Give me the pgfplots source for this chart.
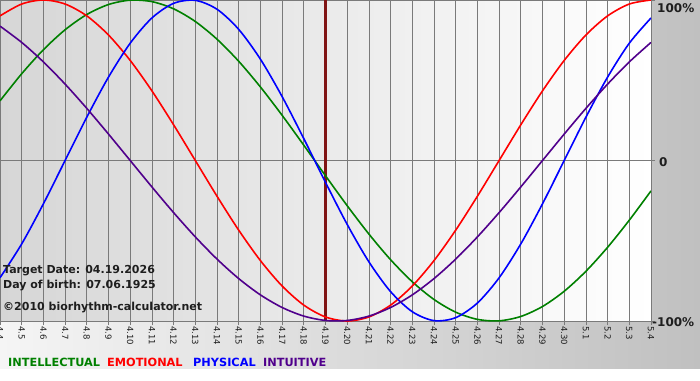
\documentclass[border=0pt]{standalone}
\usepackage{fontspec}
\setmainfont{DejaVu Sans}
\usepackage{pgfplots}
\usepackage{pgfplotstable}
\pgfplotsset{compat=1.18}
\definecolor{cint}{RGB}{0,128,0}
\definecolor{cemo}{RGB}{255,0,0}
\definecolor{cphy}{RGB}{0,0,255}
\definecolor{cintu}{RGB}{80,0,140}
\definecolor{ctarget}{RGB}{128,20,20}
\definecolor{cgrid}{RGB}{122,122,122}
\definecolor{ctext}{RGB}{30,30,30}
\pgfplotstableread{
i int emo phy intu
0 0.3717 0.9010 -0.7308 0.8372
1 0.5406 0.9749 -0.5196 0.7357
2 0.6901 1.0000 -0.2698 0.6142
3 0.8146 0.9749 0.0000 0.4759
4 0.9096 0.9010 0.2698 0.3247
5 0.9718 0.7818 0.5196 0.1646
6 0.9989 0.6235 0.7308 0.0000
7 0.9898 0.4339 0.8879 -0.1646
8 0.9450 0.2225 0.9791 -0.3247
9 0.8660 0.0000 0.9977 -0.4759
10 0.7557 -0.2225 0.9423 -0.6142
11 0.6182 -0.4339 0.8170 -0.7357
12 0.4582 -0.6235 0.6313 -0.8372
13 0.2817 -0.7818 0.3984 -0.9158
14 0.0951 -0.9010 0.1362 -0.9694
15 -0.0951 -0.9749 -0.1362 -0.9966
16 -0.2817 -1.0000 -0.3984 -0.9966
17 -0.4582 -0.9749 -0.6313 -0.9694
18 -0.6182 -0.9010 -0.8170 -0.9158
19 -0.7557 -0.7818 -0.9423 -0.8372
20 -0.8660 -0.6235 -0.9977 -0.7357
21 -0.9450 -0.4339 -0.9791 -0.6142
22 -0.9898 -0.2225 -0.8879 -0.4759
23 -0.9989 0.0000 -0.7308 -0.3247
24 -0.9718 0.2225 -0.5196 -0.1646
25 -0.9096 0.4339 -0.2698 0.0000
26 -0.8146 0.6235 0.0000 0.1646
27 -0.6901 0.7818 0.2698 0.3247
28 -0.5406 0.9010 0.5196 0.4759
29 -0.3717 0.9749 0.7308 0.6142
30 -0.1893 1.0000 0.8879 0.7357
}\bio
\begin{document}
\begin{tikzpicture}[x=1pt,y=1pt]
\path[use as bounding box] (0,0) rectangle (700,380);
\shade[left color={rgb,255:red,245;green,245;blue,245}, right color={rgb,255:red,192;green,192;blue,192}] (0,11) rectangle (700,380);
\fill[white] (0,0) rectangle (700,11);
\begin{axis}[at={(0pt,219.5pt)}, anchor=origin, width=651pt, height=321pt, scale only axis,
  xmin=0, xmax=30, ymin=-1, ymax=1,
  axis line style={draw=none},
  axis background/.style={left color={rgb,255:red,214;green,214;blue,214}, right color=white},
  xtick={0,...,30},
  xticklabels={4.4,4.5,4.6,4.7,4.8,4.9,4.10,4.11,4.12,4.13,4.14,4.15,4.16,4.17,4.18,4.19,4.20,4.21,4.22,4.23,4.24,4.25,4.26,4.27,4.28,4.29,4.30,5.1,5.2,5.3,5.4},
  ytick={-1,0,1}, yticklabels={},
  xmajorgrids, ymajorgrids,
  grid style={draw=cgrid, line width=0.8pt},
  major tick style={draw=cgrid, line width=0.8pt},
  major tick length=4pt, tick align=outside,
  xtick pos=bottom, ytick pos=right,
  xticklabel style={rotate=-90, anchor=west, inner sep=1pt, text=ctext, font=\fontsize{8.5}{8.5}\selectfont},
]
\addplot[ctarget, line width=2.2pt] coordinates {(15,-1) (15,1)};
\addplot[cint, line width=1.6pt, smooth] table[x=i, y=int] {\bio};
\addplot[cemo, line width=1.6pt, smooth] table[x=i, y=emo] {\bio};
\addplot[cphy, line width=1.6pt, smooth] table[x=i, y=phy] {\bio};
\addplot[cintu, line width=1.6pt, smooth] table[x=i, y=intu] {\bio};
\end{axis}
\begin{scope}[every node/.style={anchor=west, inner sep=0pt, text=ctext, font=\bfseries\fontsize{12}{12}\selectfont}]
\node at (657,372) {100\%};
\node at (659,218) {0};
\node at (652,58) {-100\%};
\end{scope}
\begin{scope}[every node/.style={anchor=west, inner sep=0pt, text=ctext, font=\bfseries\fontsize{11}{11}\selectfont}]
\node at (3,109) {Target Date: 04.19.2026};
\node at (3,94) {Day of birth: 07.06.1925};
\node at (3,72) {©2010 biorhythm-calculator.net};
\end{scope}
\begin{scope}[every node/.style={anchor=west, inner sep=0pt, font=\bfseries\fontsize{11.3}{11.3}\selectfont}]
\node[text=cint] at (8,18) {INTELLECTUAL};
\node[text=cemo] at (107,18) {EMOTIONAL};
\node[text=cphy] at (193,18) {PHYSICAL};
\node[text=cintu] at (263,18) {INTUITIVE};
\end{scope}
\end{tikzpicture}
\end{document}
